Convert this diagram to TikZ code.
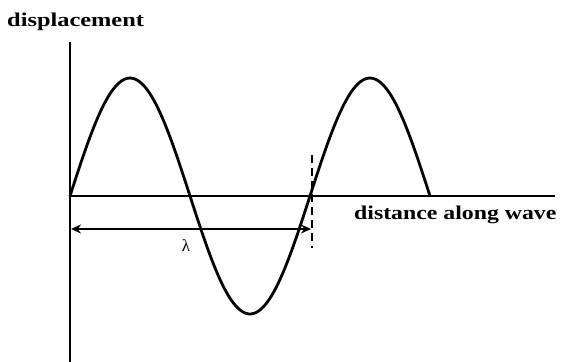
\documentclass[tikz,border=0pt]{standalone}
\usepackage{fontspec}
\setmainfont{Liberation Serif}
\usetikzlibrary{arrows.meta}

\begin{document}
\begin{tikzpicture}[x=1pt, y=-1pt,
    axis/.style={line width=2.4pt, black},
    wave/.style={line width=2.8pt, black},
    label/.style={font=\bfseries\fontsize{19.5}{21}\selectfont, inner sep=0pt, anchor=base west},
    span/.style={{Stealth[length=10pt,width=9pt]}-{Stealth[length=10pt,width=9pt]}, line width=2.4pt}
]
\useasboundingbox (0,0) rectangle (566,362);

% axes
\coordinate (o) at (70,196);
\coordinate (ytop) at (70,42);
\coordinate (ybot) at (70,362);
\coordinate (xend) at (555,196);
\draw[axis] (ytop) -- (ybot);
\draw[axis] (o) -- (xend);

% the wave, one and a half wavelengths
\draw[wave, smooth, domain=0:540, samples=120]
    plot ({70+\x*2/3}, {196-118*sin(\x)});

% wavelength marker
\coordinate (d1) at (312,155);
\coordinate (d2) at (312,248);
\draw[line width=1.5pt, dash pattern=on 8pt off 5pt] (d1) -- (d2);
\coordinate (a1) at (71,229);
\coordinate (a2) at (311,229);
\draw[span] (a1) -- (a2);

% labels
\node[label] (ylab) at (7,26) {\scalebox{1.25}[1]{displacement}};
\node[label] (xlab) at (354,219) {\scalebox{1.22}[1]{distance along wave}};
\node[font=\fontsize{17}{18}\selectfont, inner sep=0pt] (lam) at (186,246) {λ};
\end{tikzpicture}
\end{document}
